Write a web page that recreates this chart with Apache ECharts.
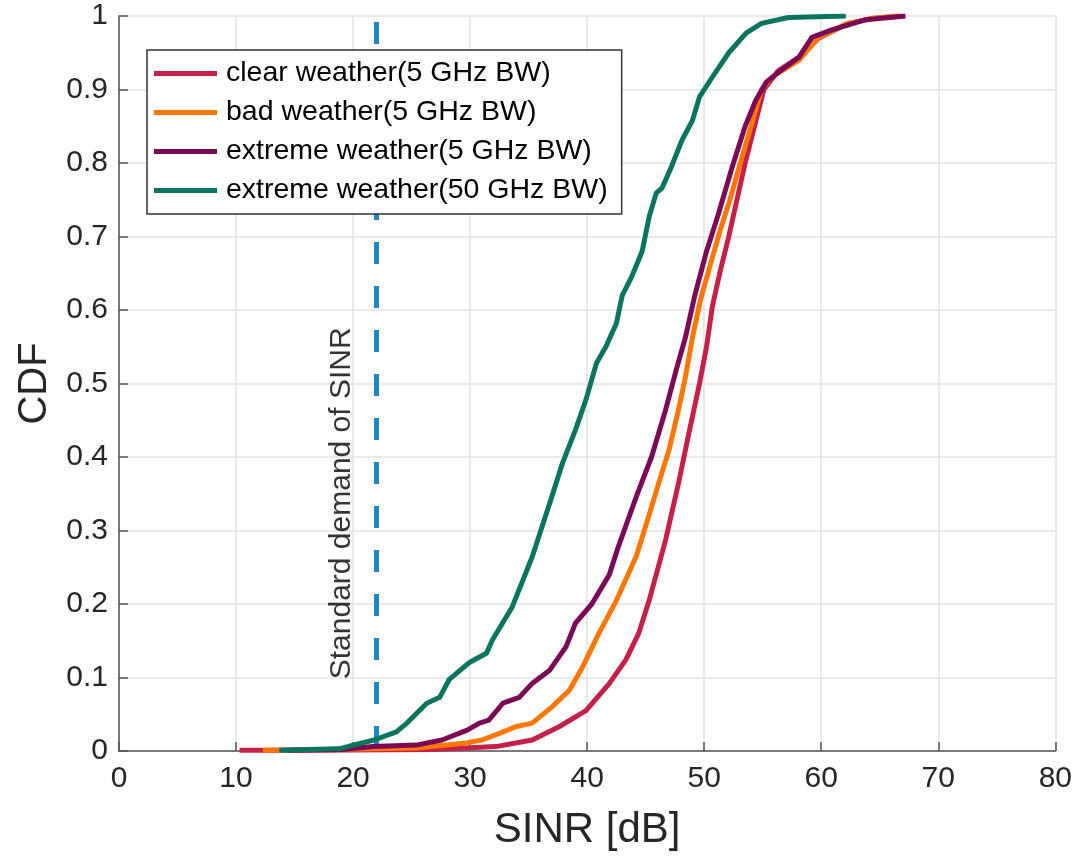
<!DOCTYPE html>
<html>
<head>
<meta charset="utf-8">
<script src="https://cdn.jsdelivr.net/npm/echarts@6/dist/echarts.min.js"></script>
<style>
html,body{margin:0;padding:0;background:#fff;}
#chart{width:1075px;height:856px;}
</style>
</head>
<body>
<div id="chart"></div>
<script>
// ---- data ----
var seriesNames = ['clear weather(5 GHz BW)', 'bad weather(5 GHz BW)', 'extreme weather(5 GHz BW)', 'extreme weather(50 GHz BW)'];

var clearX = [10.3, 16, 26.8, 32.2, 35.3, 37.6, 39.9, 41.9, 43.3, 44.4, 45.3, 46.7, 47.8, 48.7, 49.6, 50.2, 50.7, 51.4, 52.1, 52.8, 53.5, 54.3, 55.1, 56.3, 58.1, 59.8, 62.3, 64.5, 66.9];
var clearY = [0.001, 0.001, 0.002, 0.006, 0.015, 0.033, 0.055, 0.092, 0.124, 0.16, 0.205, 0.287, 0.364, 0.433, 0.5, 0.55, 0.605, 0.655, 0.7, 0.75, 0.8, 0.85, 0.9, 0.925, 0.944, 0.97, 0.99, 0.997, 1.0];

var badX = [12.3, 18, 25.4, 29.7, 31.0, 32.5, 33.9, 35.3, 37.0, 38.5, 39.6, 41.0, 42.5, 44.2, 45.5, 46.1, 47.0, 47.8, 48.4, 49.0, 49.7, 50.5, 51.3, 52.2, 53.0, 54.0, 54.9, 55.8, 58.1, 59.8, 62.3, 64.5, 66.6];
var badY = [0.001, 0.002, 0.004, 0.011, 0.015, 0.024, 0.033, 0.038, 0.06, 0.083, 0.114, 0.16, 0.205, 0.265, 0.332, 0.364, 0.41, 0.464, 0.509, 0.563, 0.615, 0.66, 0.705, 0.75, 0.795, 0.85, 0.9, 0.917, 0.94, 0.971, 0.99, 0.997, 1.0];

var extremeX = [14.5, 19.1, 21.7, 25.4, 27.6, 29.7, 30.8, 31.6, 32.8, 34.2, 35.3, 36.8, 38.2, 39.0, 40.4, 41.9, 42.6, 44.2, 45.5, 46.7, 47.6, 48.4, 49.2, 50.2, 51.2, 52.4, 53.5, 54.4, 55.3, 56.4, 58.1, 59.2, 60.9, 63.8, 67.2];
var extremeY = [0.001, 0.002, 0.006, 0.008, 0.015, 0.028, 0.038, 0.042, 0.065, 0.073, 0.092, 0.11, 0.142, 0.174, 0.2, 0.24, 0.275, 0.346, 0.4, 0.464, 0.518, 0.563, 0.62, 0.68, 0.73, 0.795, 0.85, 0.885, 0.91, 0.924, 0.944, 0.971, 0.981, 0.995, 1.0];

var extreme50X = [13.7, 16, 18.8, 20, 21.8, 23.7, 24.6, 26.3, 27.4, 28.2, 29.9, 31.4, 31.9, 33.6, 35.3, 36.8, 37.9, 39.0, 39.9, 40.8, 41.6, 42.5, 43.0, 43.8, 44.7, 45.3, 45.9, 46.4, 47.2, 48.1, 49.0, 49.6, 50.7, 52.1, 53.6, 54.9, 57.2, 62.1];
var extreme50Y = [0.001, 0.002, 0.003, 0.008, 0.015, 0.026, 0.038, 0.065, 0.073, 0.097, 0.12, 0.133, 0.151, 0.196, 0.264, 0.337, 0.392, 0.437, 0.478, 0.528, 0.55, 0.582, 0.62, 0.645, 0.68, 0.727, 0.759, 0.766, 0.795, 0.831, 0.858, 0.89, 0.917, 0.95, 0.977, 0.99, 0.998, 1.0];

var demandSINR = 22;
var demandLabel = 'Standard demand of SINR';
var demandLabelPos = [19.0, 0.337];

var xTicks = [0, 80, 10];   // min, max, interval
var yTicks = [0, 1, 0.1];

// ---- build ----
function pairs(xs, ys) { return xs.map(function (x, i) { return [x, ys[i]]; }); }
var colors = ['#c4204a', '#ff7600', '#7a0a55', '#0a745e'];
var FONT = '"Liberation Sans", Arial, sans-serif';

var chart = echarts.init(document.getElementById('chart'), null, {renderer: 'canvas'});

var dataSets = [pairs(clearX, clearY), pairs(badX, badY), pairs(extremeX, extremeY), pairs(extreme50X, extreme50Y)];
var series = dataSets.map(function (d, i) {
  return {
    name: seriesNames[i], type: 'line', data: d, showSymbol: false, symbol: 'none',
    lineStyle: {width: 5, color: colors[i], join: 'round'}, itemStyle: {color: colors[i]},
    animation: false, z: 3
  };
});
series.push({
  name: 'demand', type: 'line', data: [[demandSINR, yTicks[1]], [demandSINR, yTicks[0]]],
  showSymbol: false, symbol: 'none', animation: false, z: 2,
  lineStyle: {width: 5, color: '#1a88c2', type: [22, 22], dashOffset: 38, cap: 'butt'}
});
series.push({
  name: 'label', type: 'scatter', data: [demandLabelPos], symbolSize: 0, silent: true, animation: false, z: 2,
  label: {show: true, position: 'inside', rotate: 90, formatter: demandLabel, fontSize: 30, color: '#000', fontFamily: FONT}
});

chart.setOption({
  backgroundColor: '#fff',
  textStyle: {fontFamily: FONT},
  grid: {left: 119, right: 18, top: 16, bottom: 105, containLabel: false},
  legend: {
    data: seriesNames, orient: 'vertical', left: 147, top: 50, z: 10,
    icon: 'rect', itemWidth: 63, itemHeight: 5, itemGap: 10,
    padding: [9, 14, 9, 7],
    backgroundColor: '#fff', borderColor: '#333', borderWidth: 1.5, borderRadius: 0,
    textStyle: {fontSize: 28.5, color: '#000', fontFamily: FONT, lineHeight: 28, padding: [0, 0, 0, 4]}
  },
  xAxis: {
    type: 'value', min: xTicks[0], max: xTicks[1], interval: xTicks[2],
    name: 'SINR [dB]', nameLocation: 'middle', nameGap: 58,
    nameTextStyle: {fontSize: 42, color: '#262626', fontFamily: FONT},
    axisLine: {show: true, onZero: false, lineStyle: {color: '#555', width: 1.5}},
    axisTick: {show: true, inside: true, length: 9, lineStyle: {color: '#555', width: 1.5}},
    axisLabel: {fontSize: 30, color: '#262626', margin: 13, fontFamily: FONT},
    splitLine: {show: true, lineStyle: {color: '#e3e3e3', width: 1.5}}
  },
  yAxis: {
    type: 'value', min: yTicks[0], max: yTicks[1], interval: yTicks[2],
    name: 'CDF', nameLocation: 'middle', nameGap: 64, nameRotate: 90,
    nameTextStyle: {fontSize: 40, color: '#262626', fontFamily: FONT},
    axisLine: {show: true, onZero: false, lineStyle: {color: '#555', width: 1.5}},
    axisTick: {show: true, inside: true, length: 9, lineStyle: {color: '#555', width: 1.5}},
    axisLabel: {fontSize: 30, color: '#262626', margin: 11, fontFamily: FONT},
    splitLine: {show: true, lineStyle: {color: '#e3e3e3', width: 1.5}}
  },
  series: series
});
</script>
</body>
</html>
